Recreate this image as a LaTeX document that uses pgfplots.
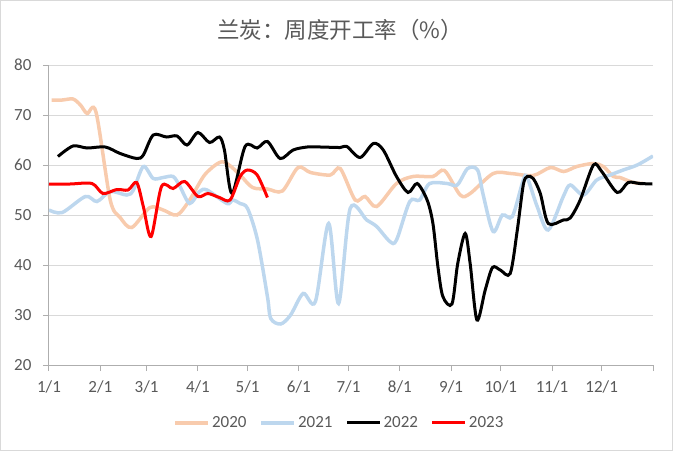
\documentclass[border=0pt]{standalone}
\usepackage{fontspec}
\setmainfont{Carlito}
\newfontfamily\cjk{Noto Sans CJK SC}
\usepackage{pgfplots}
\pgfplotsset{compat=1.18}
\usetikzlibrary{calc}
\definecolor{c2020}{HTML}{F8CBAD}
\definecolor{c2021}{HTML}{BDD7EE}
\definecolor{txt}{HTML}{595959}
\definecolor{gridc}{HTML}{D9D9D9}
\begin{document}
\begin{tikzpicture}
\begin{axis}[
  scale only axis, width=604pt, height=300pt,
  xmin=0, xmax=365, ymin=20, ymax=80,
  ytick={20,30,...,80},
  xtick={0,31,59,90,120,151,181,212,243,273,304,334,365},
  xticklabels={1/1,2/1,3/1,4/1,5/1,6/1,7/1,8/1,9/1,10/1,11/1,12/1,{}},
  ymajorgrids, major grid style={gridc, line width=1pt},
  axis x line*=bottom, axis y line*=left,
  axis line style={gridc!80!black, line width=1pt},
  tick style={gridc!80!black, line width=1pt},
  major tick length=6pt, tick align=outside,
  ticklabel style={font=\fontsize{17}{19}\selectfont, text=txt},
  yticklabel style={xshift=-8pt},
  xticklabel style={yshift=-6pt},
  /pgf/number format/assume math mode=true,
  legend columns=4,
  legend style={at={(0.481,-0.193)}, anchor=center, draw=none, fill=none,
    font=\fontsize{17}{19}\selectfont, text=txt,
    /tikz/every even column/.append style={column sep=11pt}},
  legend image code/.code={\draw[#1] (0pt,0pt) -- (33pt,0pt);},
  every axis plot/.append style={smooth, tension=0.5, no markers},
]
\coordinate (O) at (rel axis cs:0,0);
\addplot[c2020, line width=3.5pt] table {
1.6 73
8 73
14.5 73.2
19 72
23 70.3
28.4 70.6
37 53
43 49.5
50 47.5
61 51.5
69 51
77.4 50
85 53
94 58
103 60.5
108 60.2
115.5 58
123 55.5
132 55.2
141 54.8
150.5 59.5
158 58.5
170 58
176 59.3
185 53
191 53.7
198 51.7
210 56.3
220 57.7
232 57.7
239 58.9
248.5 54
254.5 54.3
268.4 58.3
279 58.3
292.6 57.9
303 59.5
311 58.7
319 59.7
329 60.3
335 59.7
341 57.7
345 57.5
353 56.5
359 56.3
};
\addlegendentry{2020}
\addplot[c2021, line width=3.5pt] table {
0 51
8 50.5
22 53.7
29 52.7
37 54.7
47 54
51 55
57 59.7
63 57.3
69 57.5
75 57.7
79 55.8
85 52.3
91 54.7
95.5 55
107.6 52.3
111 53
115.5 52.3
120 51.3
126 45
132 33.7
134 29.3
140 28.2
146 30
153.6 34.3
161 32.7
169 48.3
175 32.3
182 51.3
192 49
198 47.7
206 44.7
210 45
218 52.7
224 53
230 56.3
240.6 56.3
246.7 56
253 59.3
259 59
262.4 54
268.4 46.7
274 50
280 49.7
286.6 57
289 57.5
295 51.7
301.7 47
310.8 53.7
315 56
323 54
331 57
339 58
347 59
355.5 60
365 61.8
};
\addlegendentry{2021}
\addplot[black, line width=3pt] table {
5.4 61.7
14.5 63.8
23 63.4
34 63.6
43 62.3
53 61.3
57 62
63 66
71 65.6
77.4 65.8
83.4 64
90 66.5
97 64.5
103 65.6
106 63
110.6 54.3
118.5 63.7
125.8 63.4
132 64.7
139.7 61.3
147.5 63
156 63.6
164 63.6
176 63.5
180 63.7
188 61.5
196 64.3
202 63
210 57.7
217 54.5
222.5 56.3
228.5 53
232 48.3
235 39.7
238 33.7
243.5 32.2
247 40.3
251.5 46.3
254.5 40.3
258.6 29
263.6 35
268 39.5
272.7 39
278.7 38.3
283 47
286.6 56
289 57.7
292.6 57.3
296.9 54.3
301.7 48.3
310.8 49
315 49.4
321 53
329 60
334 58.7
343.4 54.5
350 56.5
357 56.3
364.6 56.2
};
\addlegendentry{2022}
\addplot[red, line width=3pt] table {
0 56.2
12.7 56.2
26 56.3
32.6 54.3
41 55.1
47.8 55
53 56.5
57 51.7
61.7 45.7
68 55.7
75 55.3
82 56.7
90 53.7
96 54.3
103 53.5
109.4 53
115.5 57.7
120 59
125.8 58
132 53.5
};
\addlegendentry{2023}
\end{axis}
\pgfresetboundingbox
\coordinate (BL) at ($(O)+(-49pt,-86pt)$);
\path[use as bounding box] (BL) rectangle ++(673pt,451pt);
\draw[gridc, line width=1pt] ($(BL)+(0.5pt,0.5pt)$) rectangle ($(BL)+(672.5pt,450.5pt)$);
\node[text=txt, font=\cjk\fontsize{22.5}{24}\selectfont] at ($(BL)+(340pt,421pt)$) {兰炭：周度开工率（\%）};
\end{tikzpicture}
\end{document}
